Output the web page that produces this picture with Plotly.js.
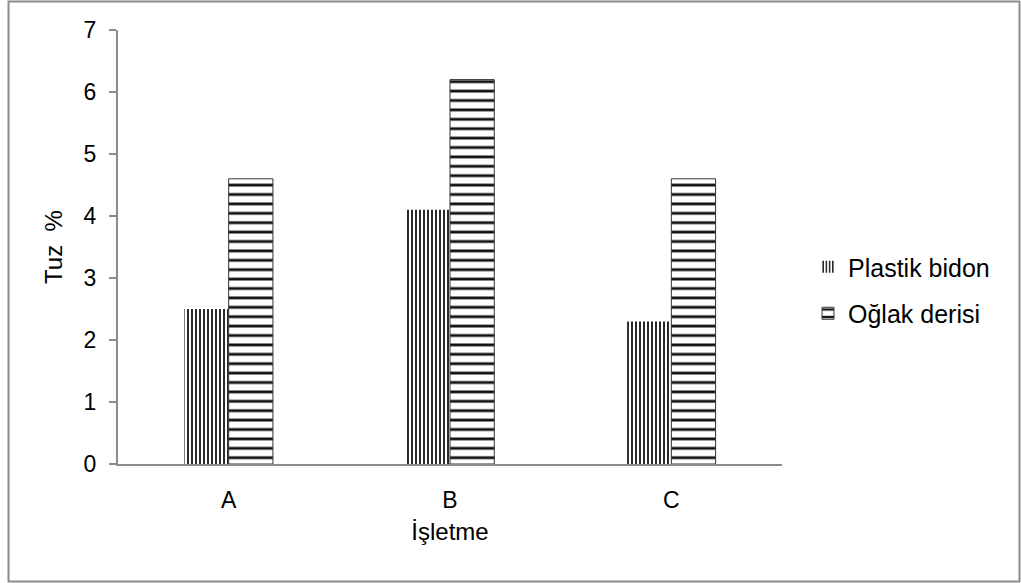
<!DOCTYPE html>
<html>
<head>
<meta charset="utf-8">
<script src="https://cdn.plot.ly/plotly-3.0.1.min.js"></script>
<style>
  html, body { margin: 0; padding: 0; background: #fff; }
  #chart { width: 1021px; height: 583px; }
</style>
</head>
<body>
<div id="chart"></div>
<script>
// Salt content (%) by enterprise and container type
const categories = ['A', 'B', 'C'];
const plastikBidon = [2.5, 4.1, 2.3];
const oglakDerisi = [4.6, 6.2, 4.6];
const seriesNames = ['Plastik bidon', 'Oğlak derisi'];
const yTicks = [0, 1, 2, 3, 4, 5, 6, 7];

const FONT = 'Liberation Sans, Arial, sans-serif';
const AXIS_GREY = '#8c8c8c';

// plot area in pixels, used to place the outer frame in paper units
const W = 1021, H = 583;
const M = { l: 118, r: 239, t: 30, b: 119 };
const pw = W - M.l - M.r, ph = H - M.t - M.b;
const px = x => (x - M.l) / pw;
const py = y => (H - M.b - y) / ph;

const traces = [
  {
    type: 'bar',
    name: seriesNames[0],
    x: categories,
    y: plastikBidon,
    legendgroup: 'g1',
    marker: {
      color: '#ffffff',
      line: { width: 0 },
      pattern: { shape: '|', size: 4, solidity: 0.45, fgcolor: '#111', bgcolor: '#ffffff' }
    },
    hoverinfo: 'x+y'
  },
  {
    type: 'bar',
    name: seriesNames[1],
    x: categories,
    y: oglakDerisi,
    legendgroup: 'g2',
    marker: {
      color: '#ffffff',
      line: { width: 1, color: '#333' },
      pattern: { shape: '-', size: 9.4, solidity: 0.3, fgcolor: '#111', bgcolor: '#ffffff' }
    },
    hoverinfo: 'x+y'
  }
];

const layout = {
  width: W,
  height: H,
  margin: M,
  paper_bgcolor: '#ffffff',
  plot_bgcolor: '#ffffff',
  font: { family: FONT, size: 23, color: '#000' },
  barmode: 'group',
  bargap: 0.6,
  bargroupgap: 0,
  showlegend: true,
  legend: {
    x: px(808), xanchor: 'left',
    y: py(290), yanchor: 'middle',
    font: { family: FONT, size: 25, color: '#000' },
    tracegroupgap: 11,
    bgcolor: 'rgba(0,0,0,0)'
  },
  xaxis: {
    type: 'category',
    showline: true,
    linecolor: AXIS_GREY,
    linewidth: 2,
    ticks: '',
    showgrid: false,
    zeroline: false,
    tickfont: { family: FONT, size: 23 },
    ticklabelstandoff: 14,
    title: { text: 'İşletme', font: { family: FONT, size: 24 }, standoff: 12 }
  },
  yaxis: {
    range: [0, 7],
    tickvals: yTicks,
    showline: true,
    linecolor: AXIS_GREY,
    linewidth: 2,
    ticks: 'outside',
    ticklen: 7,
    tickwidth: 2,
    tickcolor: AXIS_GREY,
    showgrid: false,
    zeroline: false,
    tickfont: { family: FONT, size: 23 },
    ticklabelstandoff: 8,
    title: { text: 'Tuz  %', font: { family: FONT, size: 24 }, standoff: 14 }
  },
  shapes: [
    {
      type: 'rect', xref: 'paper', yref: 'paper', layer: 'below',
      x0: px(8.5), x1: px(1019.5), y0: py(581.5), y1: py(1.5),
      line: { color: AXIS_GREY, width: 2 }, fillcolor: 'rgba(0,0,0,0)'
    }
  ]
};

Plotly.newPlot('chart', traces, layout, { displayModeBar: false, staticPlot: true });
</script>
</body>
</html>
